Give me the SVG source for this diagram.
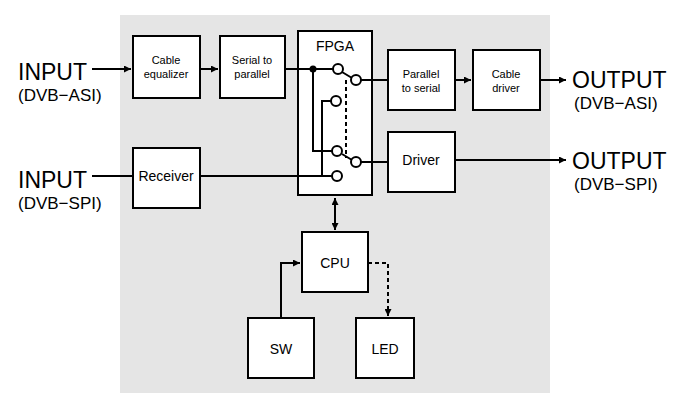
<svg xmlns="http://www.w3.org/2000/svg" width="700" height="410" viewBox="0 0 700 410">
<defs>
<marker id="a" viewBox="0 0 10 10" refX="10" refY="5" markerWidth="7" markerHeight="7" orient="auto-start-reverse" markerUnits="userSpaceOnUse"><path d="M0,0L10,5L0,10z" fill="#000"/></marker>
<style>
.b{fill:#fff;stroke:#000;stroke-width:2}
.l{fill:none;stroke:#000;stroke-width:2}
.c{fill:#fff;stroke:#000;stroke-width:2}
.t{font-family:"Liberation Sans",Arial,sans-serif;text-anchor:middle;fill:#000}
.st{font-family:"Liberation Sans",Arial,sans-serif;fill:#000}
.s{font-size:11px}.m{font-size:14px}.big{font-size:23px}.sub{font-size:17px}
</style>
</defs>
<rect width="700" height="410" fill="#fff"/>
<rect x="120" y="15" width="430" height="378" fill="#e5e5e5"/>
<g id="fpga"><rect class="b" x="298" y="31" width="74" height="164"/><text class="t m" x="335" y="51" font-size="16">FPGA</text></g>
<g id="eq"><rect class="b" x="133" y="36" width="67" height="62"/><text class="t s" x="166" y="64">Cable</text><text class="t s" x="166" y="78">equalizer</text></g>
<g id="s2p"><rect class="b" x="220" y="36" width="65" height="62"/><text class="t s" x="252" y="64">Serial to</text><text class="t s" x="252" y="78">parallel</text></g>
<g id="p2s"><rect class="b" x="388" y="50" width="67" height="60"/><text class="t s" x="421" y="78">Parallel</text><text class="t s" x="421" y="92">to serial</text></g>
<g id="cd"><rect class="b" x="473" y="50" width="67" height="60"/><text class="t s" x="506" y="78">Cable</text><text class="t s" x="506" y="92">driver</text></g>
<g id="drv"><rect class="b" x="388" y="132" width="67" height="60"/><text class="t m" x="421" y="165" font-size="13">Driver</text></g>
<g id="rcv"><rect class="b" x="133" y="148" width="67" height="60"/><text class="t m" x="166" y="181" font-size="13">Receiver</text></g>
<g id="cpu"><rect class="b" x="302" y="232" width="66" height="60"/><text class="t m" x="335" y="268" font-size="15">CPU</text></g>
<g id="sw"><rect class="b" x="248" y="318" width="66" height="60"/><text class="t m" x="281" y="354" font-size="15">SW</text></g>
<g id="led"><rect class="b" x="356" y="318" width="58" height="60"/><text class="t m" x="385" y="354" font-size="15">LED</text></g>
<g id="labels">
<text class="st big" x="18" y="80">INPUT</text><text class="st sub" x="18" y="101">(DVB−ASI)</text>
<text class="st big" x="18" y="188">INPUT</text><text class="st sub" x="18" y="209">(DVB−SPI)</text>
<text class="st big" x="572" y="88">OUTPUT</text><text class="st sub" x="574" y="109">(DVB−ASI)</text>
<text class="st big" x="572" y="169">OUTPUT</text><text class="st sub" x="574" y="190">(DVB−SPI)</text>
</g>
<g id="connectors">
<path class="l" d="M92,69H131" marker-end="url(#a)"/>
<path class="l" d="M92,176H133"/>
<path class="l" d="M200,69H218" marker-end="url(#a)"/>
<path class="l" d="M285,69H333"/>
<path class="l" d="M313,69V151H332"/>
<path class="l" d="M331,101H322V176"/>
<path class="l" d="M200,176H332"/>
<path class="l" d="M342,72L352,78M342,154L352,160"/>
<path class="l" d="M346,80V158" stroke-dasharray="4,3"/>
<path class="l" d="M361,80H388M361,162H388"/>
<path class="l" d="M455,80H471" marker-end="url(#a)"/>
<path class="l" d="M540,80H566" marker-end="url(#a)"/>
<path class="l" d="M455,160H566" marker-end="url(#a)"/>
<path class="l" d="M335,198V230" marker-start="url(#a)" marker-end="url(#a)"/>
<path class="l" d="M281,318V263H300" marker-end="url(#a)"/>
<path class="l" d="M368,263H388V316" stroke-dasharray="4,3" marker-end="url(#a)"/>
<circle cx="313" cy="69" r="3.5" fill="#000"/>
<circle class="c" cx="338" cy="69" r="5"/><circle class="c" cx="356" cy="80" r="5"/><circle class="c" cx="336" cy="101" r="5"/>
<circle class="c" cx="337" cy="151" r="5"/><circle class="c" cx="356" cy="162" r="5"/><circle class="c" cx="337" cy="176" r="5"/>
</g>
</svg>
